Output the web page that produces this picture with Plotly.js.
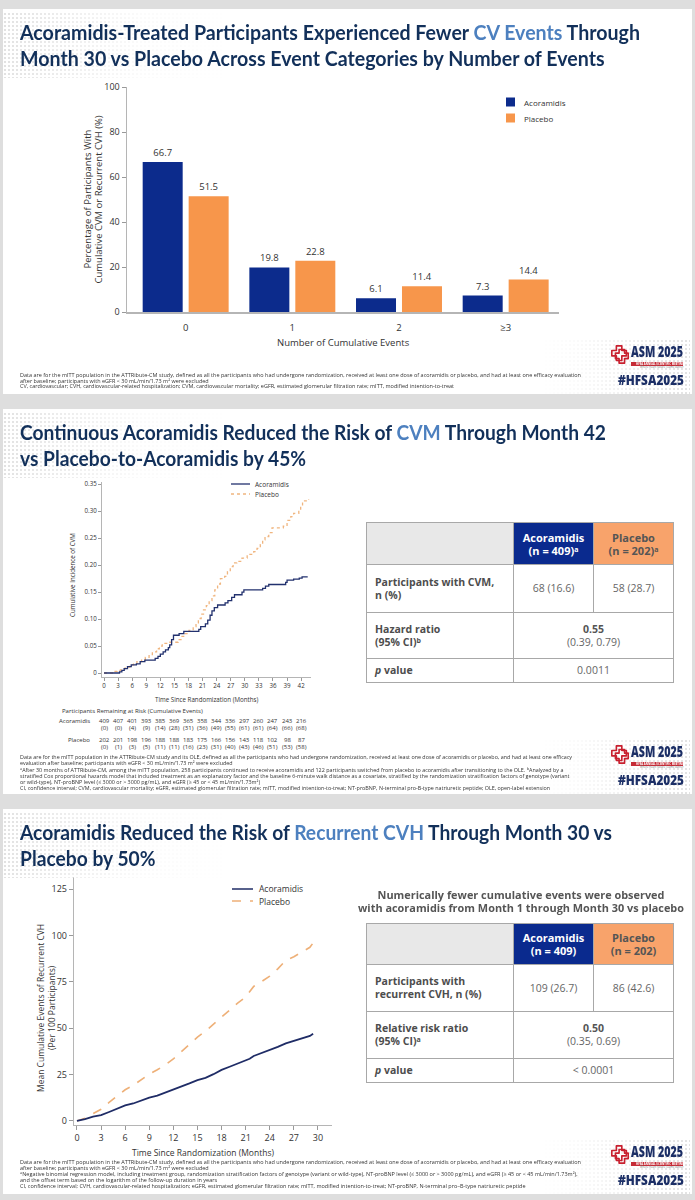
<!DOCTYPE html>
<html><head><meta charset="utf-8">
<script src="https://cdn.plot.ly/plotly-3.0.1.min.js"></script>
<style>
html,body{margin:0;padding:0;}
body{width:695px;height:1200px;background:#dedede;position:relative;overflow:hidden;font-family:"Open Sans",sans-serif;}
.panel{position:absolute;left:3px;width:689px;height:385px;background:#fff;}
.abs{position:absolute;white-space:nowrap;}
.title{font-family:"Lato","Noto Sans",sans-serif;font-weight:700;font-size:21.5px;line-height:26px;color:#12305a;transform-origin:0 0;}
.title .hl{color:#4d80bf;}
.foot{font-family:"Open Sans",sans-serif;font-size:5.6px;color:#333;transform-origin:0 0;}
.foot sup{font-size:4px;vertical-align:2px;line-height:0;}
.chart{position:absolute;left:0;}
.dots{position:absolute;background-image:radial-gradient(circle,#e2e2e2 0.9px,transparent 1.1px);background-size:4px 4px;}
.tbl{position:absolute;border-collapse:collapse;font-family:"Open Sans",sans-serif;table-layout:fixed;}
.tbl td{border:1px solid #a8a8a8;padding:0;text-align:center;vertical-align:middle;font-size:10.5px;line-height:13px;color:#666;}
.tbl td.lab{text-align:left;padding-left:8px;font-weight:700;color:#4d4d4d;}
.tbl td.hA{background:#0a2a8e;color:#fff;font-weight:700;font-size:11px;}
.tbl td.hP{background:#f8a36b;color:#555;font-weight:700;font-size:11px;}
.tbl td.h0{background:#e8e8e8;}
.tbl sup{font-size:7px;vertical-align:3px;line-height:0;}
.tbl b{color:#555;}
.logoTxt{font-family:"Open Sans",sans-serif;font-weight:800;color:#1c2f66;transform-origin:0 0;}
</style>
</head><body>
<div class="panel" style="top:9px"></div>
<div class="panel" style="top:409px"></div>
<div class="panel" style="top:809px"></div>

<div id="c1" class="chart" style="top:0;width:695px;height:400px"></div>
<div id="c2" class="chart" style="top:400px;width:360px;height:360px"></div>
<div id="c3" class="chart" style="top:800px;width:350px;height:400px"></div>

<script>
// ---------------- DATA ----------------
const barCats = ['0', '1', '2', '≥3'];
const acoBar = [66.7, 19.8, 6.1, 7.3];
const plaBar = [51.5, 22.8, 11.4, 14.4];

// Cumulative incidence of CVM (step curves)
const cvmAcoX = [0,3.3,3.8,4.3,5.0,5.8,6.9,7.7,8.7,10.9,11.5,12.0,12.6,13.1,13.7,14.0,14.4,14.8,16.0,17.0,20.2,20.6,21.6,22.1,22.6,23.0,23.5,24.2,25.8,26.4,27.2,27.8,29.4,29.8,33.8,34.4,35.1,38.7,39.0,40.4,41.6,42.2,43.4];
const cvmAcoY = [0,0.002,0.005,0.008,0.012,0.015,0.017,0.021,0.024,0.027,0.031,0.035,0.039,0.043,0.047,0.052,0.062,0.070,0.073,0.077,0.081,0.086,0.091,0.098,0.107,0.115,0.121,0.126,0.130,0.134,0.140,0.145,0.150,0.154,0.157,0.161,0.164,0.168,0.172,0.174,0.176,0.178,0.178];
const cvmPlaX = [0,2.0,2.8,3.6,4.5,5.5,6.3,7.0,8.0,8.8,9.6,10.3,11.2,11.8,12.4,13.5,15.8,16.4,17.3,18.1,19.0,19.6,20.1,20.7,21.2,21.8,22.4,23.0,23.6,24.2,24.8,25.7,26.3,26.9,27.5,28.3,29.4,30.5,31.9,32.6,33.3,33.8,34.3,35.1,35.8,38.2,39.0,39.8,40.4,41.5,41.9,42.3,43.6];
const cvmPlaY = [0,0.003,0.005,0.008,0.011,0.015,0.018,0.021,0.025,0.029,0.034,0.039,0.045,0.050,0.055,0.057,0.062,0.068,0.073,0.079,0.086,0.093,0.101,0.109,0.117,0.125,0.134,0.143,0.154,0.165,0.175,0.179,0.188,0.197,0.204,0.207,0.213,0.220,0.225,0.231,0.238,0.247,0.253,0.260,0.269,0.272,0.283,0.290,0.296,0.302,0.310,0.319,0.322];
const cvmTickVals = [0,0.05,0.10,0.15,0.20,0.25,0.30,0.35];
const cvmTickText = ['0','0.05','0.10','0.15','0.20','0.25','0.30','0.35'];
const riskMonths = [0,3,6,9,12,15,18,21,24,27,30,33,36,39,42];
const riskAco = [409,407,401,393,385,369,365,358,344,336,297,260,247,243,216];
const riskAcoEv = [0,0,4,9,14,28,31,36,49,55,61,61,64,66,68];
const riskPla = [202,201,198,196,188,188,183,175,166,156,143,118,102,98,87];
const riskPlaEv = [0,1,3,5,11,11,16,23,31,40,43,46,51,53,58];

// Mean cumulative events of recurrent CVH
const cvhAcoX = [0,0.5,1,2,3,4,5,6,7,8,9,10,11,12,13,14,15,16,17,18,19,20,21,21.5,22,23,24,25,26,27,28,29,29.4];
const cvhAcoY = [0,0.3,1,2.3,3.1,4.8,6.5,8.4,9.4,11,12.6,13.6,15.2,16.9,18.3,20.2,22,23.2,25.2,27.5,29.2,30.9,32.3,33.5,35,36.6,37.9,39.9,41.8,43,44.5,45.8,47];
const cvhPlaX = [0,1,1.5,2,3,4,5,6,7,8,9,10,11,12,13,14,15,16,17,18,19,20,21,22,23,24,25,26,27,28,29,29.4];
const cvhPlaY = [0,1.5,2.8,4,6.3,10,13.5,16.8,19.2,22.2,25.2,27.6,30.2,33.4,37.2,41.2,45.2,48.4,52.2,56.4,60,63.5,66.8,72.5,75.2,78,82,86.6,88.5,91,93.6,96];

// table contents
const t2Head = ['Acoramidis<br>(n = 409)<sup>a</sup>', 'Placebo<br>(n = 202)<sup>a</sup>'];
const t2Rows = [['Participants with CVM,<br>n (%)', '68 (16.6)', '58 (28.7)'],
                ['Hazard ratio<br>(95% CI)<sup>b</sup>', '<b>0.55</b><br>(0.39, 0.79)'],
                ['<i>p</i> value', '0.0011']];
const t3Head = ['Acoramidis<br>(n = 409)', 'Placebo<br>(n = 202)'];
const t3Rows = [['Participants with<br>recurrent CVH, n (%)', '109 (26.7)', '86 (42.6)'],
                ['Relative risk ratio<br>(95% CI)<sup>a</sup>', '<b>0.50</b><br>(0.35, 0.69)'],
                ['<i>p</i> value', '&lt; 0.0001']];

const NAVY = '#0c2b8c', ORANGE = '#f7964b';
const FONT = 'Open Sans, sans-serif';
const cfg = {staticPlot:true, displayModeBar:false};
const clear = 'rgba(0,0,0,0)';

// ---------------- CHART 1 ----------------
(function(){
  const L=127, R=559, T=87, B=312;
  const px = p => (p-L)/(R-L), py = p => (B-p)/(B-T);
  const ann = [
    {text:'Percentage of Participants With', x:px(87), y:0.5, textangle:-90, font:{size:9.5}},
    {text:'Cumulative CVM or Recurrent CVH (%)', x:px(98), y:0.5, textangle:-90, font:{size:9.5}},
    {text:'Number of Cumulative Events', x:0.5, y:py(342), font:{size:9.5}},
    {text:'Acoramidis', x:px(522), y:py(102), xanchor:'left', font:{size:8}},
    {text:'Placebo', x:px(522), y:py(118), xanchor:'left', font:{size:8}}
  ].map(a=>Object.assign({xref:'paper', yref:'paper', showarrow:false, xanchor:'center', yanchor:'middle'}, a));
  const shapes = [
    {type:'rect', xref:'paper', yref:'paper', x0:px(506), x1:px(515), y0:py(97.5), y1:py(106.5), fillcolor:NAVY, line:{width:0}},
    {type:'rect', xref:'paper', yref:'paper', x0:px(506), x1:px(515), y0:py(113.5), y1:py(122.5), fillcolor:ORANGE, line:{width:0}}
  ];
  Plotly.newPlot('c1', [
    {type:'bar', name:'Acoramidis', x:barCats, y:acoBar, marker:{color:NAVY}, text:acoBar.map(v=>v.toFixed(1)), textposition:'outside', textfont:{size:9.5,color:'#333'}, cliponaxis:false},
    {type:'bar', name:'Placebo', x:barCats, y:plaBar, marker:{color:ORANGE}, text:plaBar.map(v=>v.toFixed(1)), textposition:'outside', textfont:{size:9.5,color:'#333'}, cliponaxis:false}
  ], {
    width:695, height:400, margin:{l:L, r:695-R, t:T, b:400-B, pad:0},
    paper_bgcolor:clear, plot_bgcolor:clear, barmode:'group', bargap:0.138, bargroupgap:0.13, showlegend:false,
    font:{family:FONT, color:'#333'},
    xaxis:{type:'category', range:[-0.55,3.5], showline:true, linecolor:'#b5b5b5', linewidth:1.5, ticks:'outside', ticklen:6, tickcolor:clear, tickfont:{size:9.5}, showgrid:false, zeroline:false},
    yaxis:{range:[0,100], tickvals:[0,20,40,60,80,100], ticks:'outside', ticklen:4, tickcolor:'#999', showline:true, linecolor:'#b5b5b5', linewidth:1.5, showgrid:false, zeroline:false, tickfont:{size:9}},
    shapes:shapes, annotations:ann
  }, cfg);
})();

// ---------------- CHART 2 ----------------
(function(){
  const TOP=400, L=102, R=311, T=482, B=677;
  const XR=[-0.43,44.1];
  const px = p => (p-L)/(R-L), py = p => (B-p)/(B-T);
  const base = {xref:'paper', yref:'paper', showarrow:false, xanchor:'center', yanchor:'middle', font:{size:6}};
  const ann = [
    {text:'Cumulative Incidence of CVM', x:px(72), y:py(575), textangle:-90, font:{size:6.2}},
    {text:'Time Since Randomization (Months)', x:px(207), y:py(699), font:{size:6.2}},
    {text:'Participants Remaining at Risk (Cumulative Events)', x:px(60), y:py(711), xanchor:'left'},
    {text:'Acoramidis', x:px(92), y:py(721), xanchor:'right'},
    {text:'Placebo', x:px(92), y:py(740), xanchor:'right'},
    {text:'Acoramidis', x:px(253), y:py(484), xanchor:'left', font:{size:6.5}},
    {text:'Placebo', x:px(253), y:py(494), xanchor:'left', font:{size:6.5}}
  ].map(a=>Object.assign({}, base, a));
  riskMonths.forEach((m,i)=>{
    ann.push(Object.assign({}, base, {xref:'x', x:m, y:py(721), text:String(riskAco[i])}));
    ann.push(Object.assign({}, base, {xref:'x', x:m, y:py(728), text:'('+riskAcoEv[i]+')'}));
    ann.push(Object.assign({}, base, {xref:'x', x:m, y:py(740), text:String(riskPla[i])}));
    ann.push(Object.assign({}, base, {xref:'x', x:m, y:py(747), text:'('+riskPlaEv[i]+')'}));
  });
  const shapes = [
    {type:'line', xref:'paper', yref:'paper', x0:px(231), x1:px(250), y0:py(484), y1:py(484), line:{color:'#22316e', width:1.3}},
    {type:'line', xref:'paper', yref:'paper', x0:px(231), x1:px(250), y0:py(494), y1:py(494), line:{color:'#f0b57f', width:1.3, dash:'dot'}}
  ];
  Plotly.newPlot('c2', [
    {type:'scatter', mode:'lines', name:'Placebo', x:cvmPlaX, y:cvmPlaY, line:{shape:'hv', color:'#f0b57f', width:1.3, dash:'dot'}},
    {type:'scatter', mode:'lines', name:'Acoramidis', x:cvmAcoX, y:cvmAcoY, line:{shape:'hv', color:'#22316e', width:1.3}}
  ], {
    width:360, height:360, margin:{l:L, r:360-R, t:T-TOP, b:TOP+360-B, pad:0},
    paper_bgcolor:clear, plot_bgcolor:clear, showlegend:false,
    font:{family:FONT, color:'#333'},
    xaxis:{range:XR, tickvals:riskMonths, ticks:'outside', ticklen:3, tickcolor:'#999', showline:true, linecolor:'#b5b5b5', linewidth:1, showgrid:false, zeroline:false, tickfont:{size:6.2}},
    yaxis:{range:[-0.0074,0.354], tickvals:cvmTickVals, ticktext:cvmTickText, ticks:'outside', ticklen:3, tickcolor:'#999', showline:true, linecolor:'#b5b5b5', linewidth:1, showgrid:false, zeroline:false, tickfont:{size:6.2}},
    shapes:shapes, annotations:ann
  }, cfg);
})();

// ---------------- CHART 3 ----------------
(function(){
  const TOP=800, L=74, R=332, T=877, B=1125;
  const px = p => (p-L)/(R-L), py = p => (B-p)/(B-T);
  const ann = [
    {text:'Mean Cumulative Events of Recurrent CVH', x:px(40), y:py(1008), textangle:-90},
    {text:'(Per 100 Participants)', x:px(51), y:py(1008), textangle:-90},
    {text:'Time Since Randomization (Months)', x:px(203), y:py(1152)},
    {text:'Acoramidis', x:px(257), y:py(889), xanchor:'left'},
    {text:'Placebo', x:px(257), y:py(901), xanchor:'left'}
  ].map(a=>Object.assign({xref:'paper', yref:'paper', showarrow:false, xanchor:'center', yanchor:'middle', font:{size:8.5}}, a));
  const shapes = [
    {type:'line', xref:'paper', yref:'paper', x0:px(232), x1:px(253), y0:py(889), y1:py(889), line:{color:'#1f2c66', width:1.5}},
    {type:'line', xref:'paper', yref:'paper', x0:px(232), x1:px(253), y0:py(901), y1:py(901), line:{color:'#eeb078', width:1.5, dash:'dash'}}
  ];
  Plotly.newPlot('c3', [
    {type:'scatter', mode:'lines', name:'Placebo', x:cvhPlaX, y:cvhPlaY, line:{color:'#eeb078', width:1.6, dash:'dash'}},
    {type:'scatter', mode:'lines', name:'Acoramidis', x:cvhAcoX, y:cvhAcoY, line:{color:'#1f2c66', width:1.8}}
  ], {
    width:350, height:400, margin:{l:L, r:350-R, t:T-TOP, b:TOP+400-B, pad:0},
    paper_bgcolor:clear, plot_bgcolor:clear, showlegend:false,
    font:{family:FONT, color:'#333'},
    xaxis:{range:[-0.37,31.75], tickvals:[0,3,6,9,12,15,18,21,24,27,30], ticks:'outside', ticklen:4, tickcolor:'#999', showline:true, linecolor:'#b5b5b5', linewidth:1.2, showgrid:false, zeroline:false, tickfont:{size:9}},
    yaxis:{range:[-2.2,131.5], tickvals:[0,25,50,75,100,125], ticks:'outside', ticklen:4, tickcolor:'#999', showline:true, linecolor:'#b5b5b5', linewidth:1.2, showgrid:false, zeroline:false, tickfont:{size:9}},
    shapes:shapes, annotations:ann
  }, cfg);
})();

// ---------------- HTML TEXT ----------------
function add(html, style, cls, fit){
  const d = document.createElement('div');
  d.className = 'abs ' + (cls||'');
  d.innerHTML = html;
  d.setAttribute('style', style);
  if (fit) d.dataset.fit = fit;
  document.body.appendChild(d);
  return d;
}
const titles = [
  ['Acoramidis-Treated Participants Experienced Fewer <span class="hl">CV Events</span> Through<br>Month 30 vs Placebo Across Event Categories by Number of Events', 620],
  ['Continuous Acoramidis Reduced the Risk of <span class="hl">CVM</span> Through Month 42<br>vs Placebo-to-Acoramidis by 45%', 586],
  ['Acoramidis Reduced the Risk of <span class="hl">Recurrent CVH</span> Through Month 30 vs<br>Placebo by 50%', 592]
];
const foots = [
  {top:373, lh:5.7, w:561, lines:[
    'Data are for the mITT population in the ATTRibute-CM study, defined as all the participants who had undergone randomization, received at least one dose of acoramidis or placebo, and had at least one efficacy evaluation',
    'after baseline; participants with eGFR &lt; 30 mL/min/1.73 m² were excluded',
    'CV, cardiovascular; CVH, cardiovascular-related hospitalization; CVM, cardiovascular mortality; eGFR, estimated glomerular filtration rate; mITT, modified intention-to-treat']},
  {top:754, lh:6.3, w:552, lines:[
    'Data are for the mITT population in the ATTRibute-CM study and its OLE, defined as all the participants who had undergone randomization, received at least one dose of acoramidis or placebo, and had at least one efficacy',
    'evaluation after baseline; participants with eGFR &lt; 30 mL/min/1.73 m² were excluded',
    '<sup>a</sup>After 30 months of ATTRibute-CM, among the mITT population, 258 participants continued to receive acoramidis and 122 participants switched from placebo to acoramidis after transitioning to the OLE. <sup>b</sup>Analyzed by a',
    'stratified Cox proportional hazards model that included treatment as an explanatory factor and the baseline 6-minute walk distance as a covariate, stratified by the randomization stratification factors of genotype (variant',
    'or wild-type), NT-proBNP level (≤ 3000 or &gt; 3000 pg/mL), and eGFR (≥ 45 or &lt; 45 mL/min/1.73m²)',
    'CI, confidence interval; CVM, cardiovascular mortality; eGFR, estimated glomerular filtration rate; mITT, modified intention-to-treat; NT-proBNP, N-terminal pro-B-type natriuretic peptide; OLE, open-label extension']},
  {top:1160, lh:5.9, w:561, lines:[
    'Data are for the mITT population in the ATTRibute-CM study, defined as all the participants who had undergone randomization, received at least one dose of acoramidis or placebo, and had at least one efficacy evaluation',
    'after baseline; participants with eGFR &lt; 30 mL/min/1.73 m² were excluded',
    '<sup>a</sup>Negative binomial regression model, including treatment group, randomization stratification factors of genotype (variant or wild-type), NT-proBNP level (≤ 3000 or &gt; 3000 pg/mL), and eGFR (≥ 45 or &lt; 45 mL/min/1.73m²),',
    'and the offset term based on the logarithm of the follow-up duration in years',
    'CI, confidence interval; CVH, cardiovascular-related hospitalization; eGFR, estimated glomerular filtration rate; mITT, modified intention-to-treat; NT-proBNP, N-terminal pro–B-type natriuretic peptide']}
];
[9,409,809].forEach((pt,k)=>{
  // dotted decorations
  add('', `left:3px;top:${pt+3}px;width:230px;height:66px;-webkit-mask-image:linear-gradient(to right,#000,rgba(0,0,0,0.15) 60%,transparent);`, 'dots');
  add('', `left:540px;top:${pt+330}px;width:150px;height:55px;-webkit-mask-image:linear-gradient(to left,#000,rgba(0,0,0,0.2) 70%,transparent);`, 'dots');
  add(titles[k][0], `left:20px;top:${pt+9.7}px;`, 'title', titles[k][1]);
  const f = foots[k];
  add(f.lines.join('<br>'), `left:20px;top:${f.top}px;line-height:${f.lh}px;`, 'foot', f.w);
  // ASM 2025 logo
  add(`<svg width="20" height="22" viewBox="0 0 22 24" style="display:block"><path d="M7,2 h6 v5 h5 v6 h-5 v5 h-6 v-5 h-5 v-6 h5 z" fill="none" stroke="#c8202f" stroke-width="1.8" stroke-linejoin="round"/><path d="M10,6 h6 v4 h4 v6 h-4 v5 h-6 v-5 h-4 v-6 h4 z" fill="none" stroke="#c8202f" stroke-width="1.8" stroke-linejoin="round"/></svg>`, `left:610px;top:${pt+335}px;width:20px;height:22px;`);
  add('ASM 2025', `left:631px;top:${pt+332}px;font-size:15px;line-height:20.4px;height:20.4px;`, 'logoTxt', 52);
  add('', `left:631px;top:${pt+352.6}px;width:52px;height:4.4px;background:#c62b36;`);
  add('HFSA ANNUAL SCIENTIFIC MEETING', `left:633px;top:${pt+352.6}px;color:#fff;font-size:3.1px;line-height:4.4px;height:4.4px;font-family:'Open Sans';font-weight:700;`, '', 48);
  add('Where Heart Failure Teams Gather', `left:640px;top:${pt+357.1}px;font-size:2.7px;line-height:3.7px;height:3.7px;color:#777;font-family:'Open Sans';`);
  add('#HFSA2025', `left:618px;top:${pt+361}px;font-size:14px;line-height:19.1px;height:19.1px;`, 'logoTxt', 66);
});

// tables
function table(top, rowsH, head, rows){
  let h = `<table class="tbl" style="left:366px;top:${top}px;width:307px;">`;
  h += `<colgroup><col style="width:147px"><col style="width:80px"><col style="width:80px"></colgroup>`;
  h += `<tr style="height:${rowsH[0]}px"><td class="h0"></td><td class="hA">${head[0]}</td><td class="hP">${head[1]}</td></tr>`;
  rows.forEach((r,i)=>{
    h += `<tr style="height:${rowsH[i+1]}px"><td class="lab">${r[0]}</td>`;
    if (r.length===3) h += `<td>${r[1]}</td><td>${r[2]}</td>`; else h += `<td colspan="2">${r[1]}</td>`;
    h += '</tr>';
  });
  h += '</table>';
  const wrap = document.createElement('div');
  wrap.innerHTML = h;
  document.body.appendChild(wrap.firstChild);
}
table(522, [42,48,46,24], t2Head, t2Rows);
table(923, [41,47,47,24], t3Head, t3Rows);
add('Numerically fewer cumulative events were observed<br>with acoramidis from Month 1 through Month 30 vs placebo',
    `left:358px;top:888px;font-size:11px;line-height:13px;font-weight:700;color:#555;text-align:center;transform-origin:0 0;`, '', 326);

function fitAll(){
  document.querySelectorAll('[data-fit]').forEach(el=>{
    el.style.transform = 'none';
    const w = el.getBoundingClientRect().width;
    const t = parseFloat(el.dataset.fit);
    if (w>0) el.style.transform = `scaleX(${t/w})`;
  });
}
fitAll();
if (document.fonts && document.fonts.ready) document.fonts.ready.then(fitAll);
</script>
</body></html>
